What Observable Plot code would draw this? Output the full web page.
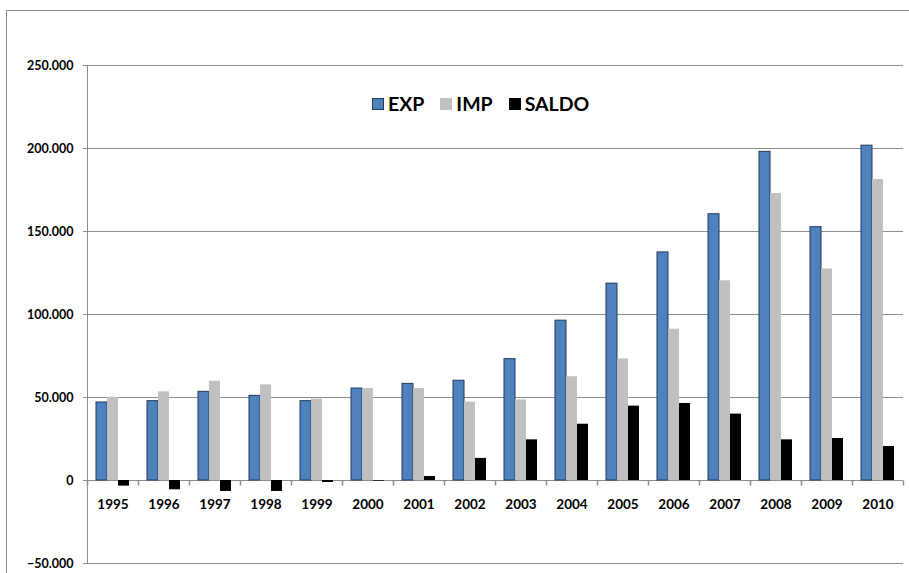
<!DOCTYPE html>
<html>
<head>
<meta charset="utf-8">
<script src="https://cdn.jsdelivr.net/npm/d3@7"></script>
<script src="https://cdn.jsdelivr.net/npm/@observablehq/plot@0.6"></script>
<style>
  html, body { margin: 0; padding: 0; background: #fff; }
  #wrap { position: relative; width: 909px; height: 573px; overflow: hidden; font-family: Lato, "Open Sans", sans-serif; }
  #border { position: absolute; left: 6px; top: 10px; width: 960px; height: 620px; border-top: 1px solid #8c8c8c; border-left: 1px solid #8c8c8c; pointer-events: none; }
  #chart svg text { fill: #000; }
  #legend { position: absolute; left: 372px; top: 92px; display: flex; align-items: center; font-weight: bold; font-size: 19.5px; color: #000; white-space: nowrap; }
  #legend .item { display: flex; align-items: center; margin-right: 16px; }
  #legend .sw { width: 12px; height: 12px; margin-right: 4px; box-sizing: border-box; }
</style>
</head>
<body>
<div id="wrap">
  <div id="chart"></div>
  <div id="border"></div>
  <div id="legend"></div>
</div>
<script>
// ---- data ----
const years = [1995, 1996, 1997, 1998, 1999, 2000, 2001, 2002, 2003, 2004, 2005, 2006, 2007, 2008, 2009, 2010];
const exp   = [47000, 47800, 53400, 51000, 47800, 55400, 58200, 60100, 73100, 96300, 118600, 137400, 160400, 198000, 152600, 201700];
const imp   = [50200, 53400, 59800, 57600, 49000, 55400, 55400, 47200, 48500, 62500, 73300, 91100, 120300, 172900, 127400, 181300];
const saldo = [-3400, -5600, -6600, -6600, -1200, -400, 2400, 13300, 24500, 33900, 44800, 46400, 40000, 24500, 25300, 20500];
const seriesNames = ["EXP", "IMP", "SALDO"];
const seriesColors = ["#4f81bd", "#c0c0c0", "#000000"];
const yTicks = [-50000, 0, 50000, 100000, 150000, 200000, 250000];

// ---- table ----
const valuesBySeries = {EXP: exp, IMP: imp, SALDO: saldo};
const data = [];
years.forEach((yr, i) => {
  seriesNames.forEach(s => data.push({year: yr, series: s, value: valuesBySeries[s][i]}));
});

const fmt = d3.formatLocale({decimal: ",", thousands: ".", grouping: [3], currency: ["", ""]}).format(",.0f");

const tickSymbol = {
  draw(context) { context.moveTo(0, 0); context.lineTo(0, 5); }
};

const chart = Plot.plot({
  width: 909,
  height: 573,
  marginLeft: 83,
  marginRight: 3,
  marginTop: 65,
  marginBottom: 10,
  style: {fontFamily: "Lato, 'Open Sans', sans-serif", fontSize: "12.5px", fontWeight: "bold", color: "#8c8c8c", background: "#fff"},
  fx: {domain: years, padding: 0, axis: null},
  x: {domain: seriesNames, paddingInner: 0, paddingOuter: 0.74, axis: null},
  y: {domain: [-50000, 250000], ticks: yTicks, tickFormat: fmt, tickSize: 4, tickPadding: 10, line: true, label: null},
  marks: [
    Plot.ruleY(yTicks, {stroke: "#8c8c8c", strokeWidth: 1}),
    Plot.barY(data.filter(d => d.series === "EXP"), {fx: "year", x: "series", y: "value", fill: seriesColors[0], stroke: "#1f3a5c", strokeWidth: 1}),
    Plot.barY(data.filter(d => d.series === "IMP"), {fx: "year", x: "series", y: "value", fill: seriesColors[1]}),
    Plot.barY(data.filter(d => d.series === "SALDO"), {fx: "year", x: "series", y: "value", fill: seriesColors[2]}),
    Plot.dot(years, {fx: d => d, y: () => 0, frameAnchor: "left", symbol: tickSymbol, stroke: "#8c8c8c", fill: "none"}),
    Plot.dot(years.slice(-1), {fx: d => d, y: () => 0, frameAnchor: "right", symbol: tickSymbol, stroke: "#8c8c8c", fill: "none"}),
    Plot.text(years, {fx: d => d, y: () => 0, text: d => String(d), dy: 24, fill: "#000", fontWeight: "bold", fontSize: 13.5})
  ]
});
document.getElementById("chart").appendChild(chart);

// ---- legend ----
const legend = document.getElementById("legend");
seriesNames.forEach((s, i) => {
  const item = document.createElement("div");
  item.className = "item";
  const sw = document.createElement("div");
  sw.className = "sw";
  sw.style.background = seriesColors[i];
  if (s === "EXP") sw.style.border = "1px solid #1f3a5c";
  const lab = document.createElement("span");
  lab.textContent = s;
  item.appendChild(sw);
  item.appendChild(lab);
  legend.appendChild(item);
});
</script>
</body>
</html>
